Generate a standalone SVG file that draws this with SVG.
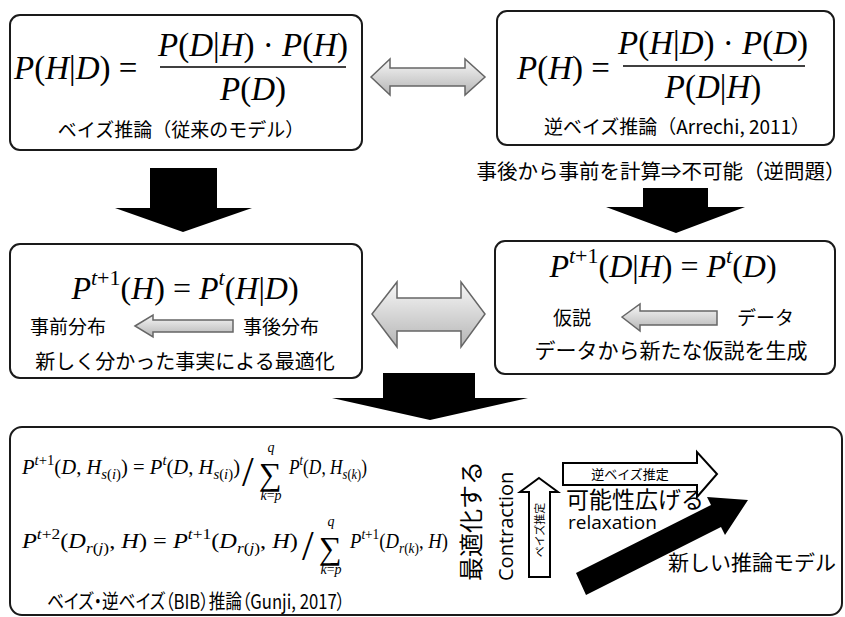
<svg xmlns="http://www.w3.org/2000/svg" width="845" height="617" viewBox="0 0 845 617">
<defs>
<linearGradient id="gray" x1="0" y1="0" x2="0" y2="1">
<stop offset="0" stop-color="#f7f7f7"/>
<stop offset="1" stop-color="#b5b5b5"/>
</linearGradient>
<style>
.box{fill:#fff;stroke:#1a1a1a;stroke-width:2}
.m{font-family:"Liberation Serif",serif;font-size:33px;fill:#000}
.m2{font-family:"Liberation Serif",serif;font-size:32px;fill:#000}
.f{font-family:"Liberation Serif",serif;font-size:21px;fill:#000}
.sl{font-family:"Liberation Serif",serif;font-size:42px;fill:#000}
.sg{font-family:"Liberation Serif",serif;font-size:32px;fill:#000}
.lim{font-family:"Liberation Serif",serif;font-size:14px;fill:#000}
.i{font-style:italic}
.jp{font-family:"Noto Sans CJK JP",sans-serif;fill:#000}
.palt{font-feature-settings:"palt"}
.lat{font-family:"Open Sans","Noto Sans CJK JP",sans-serif;fill:#000}
.garrow{fill:url(#gray);stroke:#666;stroke-width:1.5}
.barrow{fill:#000;stroke:none}
.warrow{fill:#fff;stroke:#000;stroke-width:2}
</style>
</defs>
<rect width="845" height="617" fill="#fff"/>

<g id="bayes">
<rect class="box" x="10" y="15" width="352" height="135" rx="10"/>
<text class="m" x="14" y="79"><tspan class="i">P</tspan>(<tspan class="i">H</tspan>|<tspan class="i">D</tspan>) =</text>
<text class="m" x="253" y="56" text-anchor="middle"><tspan class="i">P</tspan>(<tspan class="i">D</tspan>|<tspan class="i">H</tspan>) · <tspan class="i">P</tspan>(<tspan class="i">H</tspan>)</text>
<line x1="160" y1="67" x2="346" y2="67" stroke="#000" stroke-width="1.6"/>
<text class="m" x="253" y="100" text-anchor="middle"><tspan class="i">P</tspan>(<tspan class="i">D</tspan>)</text>
<text class="jp" x="181" y="137" font-size="19" text-anchor="middle">ベイズ推論（従来のモデル）</text>
</g>

<g id="inverse-bayes">
<rect class="box" x="497" y="11" width="337" height="134" rx="10"/>
<text class="m" x="517" y="79"><tspan class="i">P</tspan>(<tspan class="i">H</tspan>) =</text>
<text class="m" x="713" y="54" text-anchor="middle"><tspan class="i">P</tspan>(<tspan class="i">H</tspan>|<tspan class="i">D</tspan>) · <tspan class="i">P</tspan>(<tspan class="i">D</tspan>)</text>
<line x1="623" y1="66" x2="805" y2="66" stroke="#000" stroke-width="1.6"/>
<text class="m" x="713" y="98" text-anchor="middle"><tspan class="i">P</tspan>(<tspan class="i">D</tspan>|<tspan class="i">H</tspan>)</text>
<text class="jp" x="677" y="134" font-size="19" text-anchor="middle">逆ベイズ推論（Arrechi, 2011）</text>
</g>

<g id="note-inverse">
<text class="jp" x="661" y="179" font-size="20.5" text-anchor="middle">事後から事前を計算⇒不可能（逆問題）</text>
</g>

<g id="bayes-update">
<rect class="box" x="10" y="244" width="352" height="134" rx="10"/>
<text class="m2" x="185" y="299" text-anchor="middle"><tspan class="i">P</tspan><tspan font-size="22" dy="-14"><tspan class="i">t</tspan>+1</tspan><tspan dy="14">(</tspan><tspan class="i">H</tspan>) = <tspan class="i">P</tspan><tspan font-size="22" dy="-14" class="i">t</tspan><tspan dy="14">(</tspan><tspan class="i">H</tspan>|<tspan class="i">D</tspan>)</text>
<text class="jp" x="30" y="334" font-size="19">事前分布</text>
<path class="garrow" d="M135,326 L153,315 L153,320 L233,320 L233,332 L153,332 L153,337 Z"/>
<text class="jp" x="243" y="334" font-size="19">事後分布</text>
<text class="jp" x="185" y="369" font-size="20" text-anchor="middle">新しく分かった事実による最適化</text>
</g>

<g id="inverse-update">
<rect class="box" x="495" y="241" width="340" height="133" rx="10"/>
<text class="m2" x="663" y="277" text-anchor="middle"><tspan class="i">P</tspan><tspan font-size="22" dy="-14"><tspan class="i">t</tspan>+1</tspan><tspan dy="14">(</tspan><tspan class="i">D</tspan>|<tspan class="i">H</tspan>) = <tspan class="i">P</tspan><tspan font-size="22" dy="-14" class="i">t</tspan><tspan dy="14">(</tspan><tspan class="i">D</tspan>)</text>
<text class="jp" x="553" y="325" font-size="19">仮説</text>
<path class="garrow" d="M622,317 L640,304 L640,311 L717,311 L717,325 L640,325 L640,331 Z"/>
<text class="jp" x="737" y="325" font-size="19">データ</text>
<text class="jp" x="671" y="358" font-size="21" text-anchor="middle">データから新たな仮説を生成</text>
</g>

<g id="bib">
<rect class="box" x="10" y="427" width="832" height="188" rx="12"/>
<text class="f" x="22" y="474" textLength="218" lengthAdjust="spacingAndGlyphs"><tspan class="i">P</tspan><tspan font-size="15" dy="-9"><tspan class="i">t</tspan>+1</tspan><tspan dy="9">(</tspan><tspan class="i">D</tspan>, <tspan class="i">H</tspan><tspan font-size="15" dy="5"><tspan class="i">s</tspan>(<tspan class="i">i</tspan>)</tspan><tspan dy="-5">) = </tspan><tspan class="i">P</tspan><tspan font-size="15" dy="-9" class="i">t</tspan><tspan dy="9">(</tspan><tspan class="i">D</tspan>, <tspan class="i">H</tspan><tspan font-size="15" dy="5"><tspan class="i">s</tspan>(<tspan class="i">i</tspan>)</tspan><tspan dy="-5">)</tspan></text>
<text class="sl" x="242" y="486">/</text>
<text class="sg" x="259" y="485">∑</text>
<text class="lim i" x="271" y="452" text-anchor="middle">q</text>
<text class="lim" x="271" y="500" text-anchor="middle"><tspan class="i">k</tspan>=<tspan class="i">p</tspan></text>
<text class="f" x="289" y="474" textLength="78" lengthAdjust="spacingAndGlyphs"><tspan class="i">P</tspan><tspan font-size="15" dy="-9" class="i">t</tspan><tspan dy="9">(</tspan><tspan class="i">D</tspan>, <tspan class="i">H</tspan><tspan font-size="15" dy="5"><tspan class="i">s</tspan>(<tspan class="i">k</tspan>)</tspan><tspan dy="-5">)</tspan></text>

<text class="f" x="22" y="548" textLength="276" lengthAdjust="spacingAndGlyphs"><tspan class="i">P</tspan><tspan font-size="15" dy="-9"><tspan class="i">t</tspan>+2</tspan><tspan dy="9">(</tspan><tspan class="i">D</tspan><tspan font-size="15" dy="5"><tspan class="i">r</tspan>(<tspan class="i">j</tspan>)</tspan><tspan dy="-5">, </tspan><tspan class="i">H</tspan>) = <tspan class="i">P</tspan><tspan font-size="15" dy="-9"><tspan class="i">t</tspan>+1</tspan><tspan dy="9">(</tspan><tspan class="i">D</tspan><tspan font-size="15" dy="5"><tspan class="i">r</tspan>(<tspan class="i">j</tspan>)</tspan><tspan dy="-5">, </tspan><tspan class="i">H</tspan>)</text>
<text class="sl" x="302" y="560">/</text>
<text class="sg" x="319" y="559">∑</text>
<text class="lim i" x="331" y="526" text-anchor="middle">q</text>
<text class="lim" x="331" y="574" text-anchor="middle"><tspan class="i">k</tspan>=<tspan class="i">p</tspan></text>
<text class="f" x="350" y="548" textLength="98" lengthAdjust="spacingAndGlyphs"><tspan class="i">P</tspan><tspan font-size="15" dy="-9"><tspan class="i">t</tspan>+1</tspan><tspan dy="9">(</tspan><tspan class="i">D</tspan><tspan font-size="15" dy="5"><tspan class="i">r</tspan>(<tspan class="i">k</tspan>)</tspan><tspan dy="-5">, </tspan><tspan class="i">H</tspan>)</text>

<text class="jp palt" x="47" y="609" font-size="20" textLength="298" lengthAdjust="spacingAndGlyphs">ベイズ・逆ベイズ（BIB）推論（Gunji, 2017）</text>

<text class="jp" font-size="24" transform="translate(480,581) rotate(-90)">最適化する</text>
<text class="lat" font-size="20" transform="translate(513,581) rotate(-90)">Contraction</text>

<path class="warrow" d="M539,478 L558,492 L550,492 L550,577 L529,577 L529,492 L520,492 Z"/>
<text class="jp" font-size="11" text-anchor="middle" transform="translate(544,530) rotate(-90)">ベイズ推定</text>

<path class="warrow" d="M563,463 L697,463 L697,452 L717,474 L697,497 L697,485 L563,485 Z"/>
<text class="jp" x="630" y="479" font-size="13" text-anchor="middle">逆ベイズ推定</text>

<text class="jp" x="566" y="508" font-size="23">可能性広げる</text>
<text class="lat" x="568" y="529" font-size="19">relaxation</text>

<path class="barrow" d="M576,573 L711,505 L707,497 L748,500 L725,535 L721,527 L586,595 Z"/>
<text class="jp" x="668" y="570" font-size="21">新しい推論モデル</text>
</g>

<g id="connectors">
<path class="garrow" d="M371,77 L390,59 L390,68 L465,68 L465,59 L485,77 L465,95 L465,86 L390,86 L390,95 Z"/>
<path class="barrow" d="M150,168 L217,168 L217,208 L252,208 L183,232 L115,208 L150,208 Z"/>
<path class="barrow" d="M643,188 L708,188 L708,207 L745,207 L676,233 L606,207 L643,207 Z"/>
<path class="garrow" d="M372,314 L397,282 L397,298 L461,298 L461,282 L485,314 L461,347 L461,331 L397,331 L397,347 Z"/>
<path class="barrow" d="M383,373 L475,373 L475,398 L528,398 L430,420 L332,398 L383,398 Z"/>
</g>
</svg>
